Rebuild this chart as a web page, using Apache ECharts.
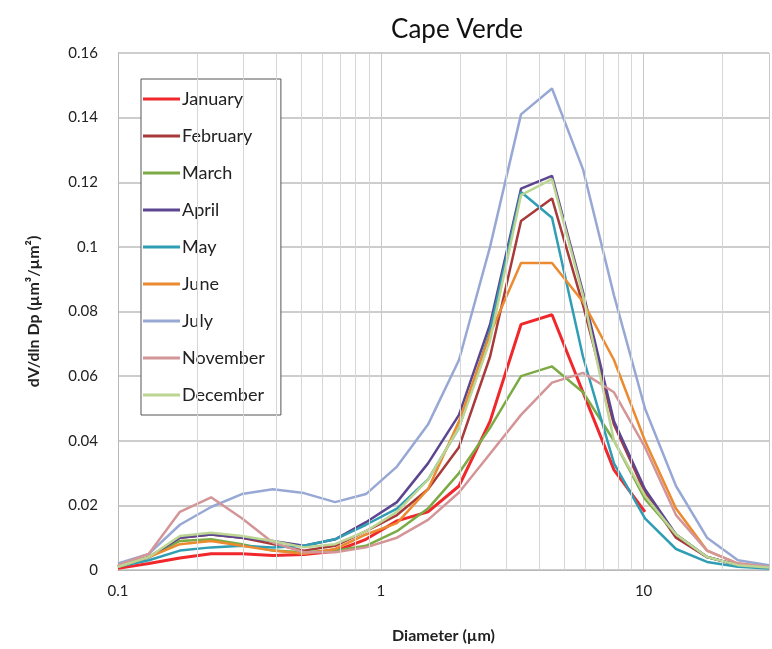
<!DOCTYPE html>
<html>
<head>
<meta charset="utf-8">
<title>Cape Verde</title>
<script src="https://cdn.jsdelivr.net/npm/echarts@6/dist/echarts.min.js"></script>
<style>
html, body { margin: 0; padding: 0; background: #fff; }
#chart { width: 772px; height: 649px; }
</style>
</head>
<body>
<div id="chart"></div>
<script>
// particle diameters (µm), shared by all months
var diameters = [0.1, 0.131, 0.172, 0.226, 0.296, 0.388, 0.51, 0.67, 0.878, 1.152, 1.512,
  1.984, 2.604, 3.416, 4.482, 5.88, 7.714, 10.12, 13.28, 17.43, 22.86, 30]

// dV/dln Dp per month
var january = [0.0005, 0.002, 0.0037, 0.005, 0.005, 0.0045, 0.0048, 0.0058, 0.0095, 0.0152, 0.018,
  0.026, 0.046, 0.076, 0.079, 0.055, 0.031, 0.018, null, null, null, null]
var february = [0.001, 0.004, 0.010, 0.011, 0.010, 0.008, 0.006, 0.0075, 0.012, 0.017, 0.025,
  0.038, 0.066, 0.108, 0.115, 0.082, 0.045, 0.024, 0.010, 0.004, 0.0015, 0.0008]
var march = [0.001, 0.004, 0.009, 0.0095, 0.008, 0.006, 0.0055, 0.006, 0.0075, 0.012, 0.019,
  0.030, 0.044, 0.060, 0.063, 0.055, 0.040, 0.022, 0.011, 0.004, 0.0015, 0.0008]
var april = [0.001, 0.004, 0.010, 0.011, 0.010, 0.009, 0.0075, 0.0095, 0.0148, 0.021, 0.033,
  0.048, 0.076, 0.118, 0.122, 0.086, 0.046, 0.025, 0.011, 0.004, 0.0015, 0.0008]
var may = [0.001, 0.003, 0.006, 0.007, 0.0075, 0.007, 0.0075, 0.0095, 0.014, 0.019, 0.028,
  0.044, 0.074, 0.117, 0.109, 0.066, 0.033, 0.016, 0.0065, 0.0025, 0.001, 0.0005]
var june = [0.001, 0.004, 0.008, 0.009, 0.0075, 0.006, 0.005, 0.0065, 0.011, 0.0145, 0.025,
  0.046, 0.073, 0.095, 0.095, 0.083, 0.065, 0.040, 0.019, 0.006, 0.002, 0.001]
var july = [0.002, 0.005, 0.014, 0.0195, 0.0235, 0.025, 0.0238, 0.021, 0.0235, 0.032, 0.045,
  0.065, 0.100, 0.141, 0.149, 0.124, 0.085, 0.050, 0.026, 0.010, 0.003, 0.0015]
var november = [0.0015, 0.005, 0.018, 0.0225, 0.016, 0.0085, 0.0055, 0.0055, 0.007, 0.010, 0.0155,
  0.024, 0.036, 0.048, 0.058, 0.061, 0.055, 0.038, 0.017, 0.006, 0.002, 0.001]
var december = [0.001, 0.004, 0.0105, 0.0115, 0.0105, 0.009, 0.007, 0.008, 0.012, 0.018, 0.028,
  0.044, 0.071, 0.116, 0.121, 0.085, 0.040, 0.023, 0.011, 0.004, 0.0015, 0.0008]

var monthNames = ['January', 'February', 'March', 'April', 'May', 'June', 'July', 'November', 'December']
var monthData = [january, february, march, april, may, june, july, november, december]
var monthColors = ['#f0282c', '#a83a3a', '#7cab45', '#5d4690', '#2f9db3', '#ec8a2f', '#97a8d4', '#d39597', '#bcd592']

// minor vertical grid lines of the log axis
var minorTicks = [0.2, 0.3, 0.4, 0.5, 0.6, 0.7, 0.8, 0.9, 2, 3, 4, 5, 6, 7, 8, 9, 20]

var chart = echarts.init(document.getElementById('chart'))

var series = monthNames.map(function (name, i) {
  return {
    name: name,
    type: 'line',
    symbol: 'none',
    z: 3,
    lineStyle: { width: i === 0 ? 3 : 2.5, color: monthColors[i] },
    itemStyle: { color: monthColors[i] },
    data: diameters.map(function (d, j) { return [d, monthData[i][j]] })
  }
})

// minor grid lines drawn with a markLine
series.unshift({
  name: 'grid',
  type: 'line',
  data: [],
  silent: true,
  z: 1,
  markLine: {
    silent: true,
    symbol: 'none',
    label: { show: false },
    lineStyle: { color: '#d6d6d6', width: 1, type: 'solid' },
    data: minorTicks.map(function (v) { return { xAxis: v } })
  }
})

chart.setOption({
  animation: false,
  backgroundColor: '#fff',
  textStyle: { fontFamily: 'Lato, "Open Sans", sans-serif' },
  title: {
    text: 'Cape Verde',
    left: 452,
    top: 12,
    textAlign: 'center',
    textStyle: { fontSize: 26, fontWeight: 'normal', color: '#111', fontFamily: 'Lato, "Open Sans", sans-serif' }
  },
  grid: { left: 118, right: -6, top: 53, bottom: 72 },
  legend: {
    data: monthNames,
    orient: 'vertical',
    left: 141,
    top: 79,
    backgroundColor: '#fff',
    borderColor: '#555',
    borderWidth: 1,
    padding: [11, 16, 11, 2],
    icon: 'rect',
    itemWidth: 37,
    itemHeight: 3,
    itemGap: 19,
    textStyle: { fontSize: 18, color: '#222', padding: [0, 0, 0, -3] }
  },
  xAxis: {
    type: 'log',
    logBase: 10,
    min: 0.1,
    max: 30,
    name: 'Diameter (µm)',
    nameLocation: 'middle',
    nameGap: 58,
    nameTextStyle: { fontSize: 16, fontWeight: 'bold', color: '#222' },
    axisLine: { show: true, lineStyle: { color: '#b8b8b8', width: 1 } },
    axisTick: { show: false },
    axisLabel: {
      fontSize: 15,
      color: '#222',
      margin: 14,
      formatter: function (v) {
        if (Math.abs(v - 0.1) < 1e-9) return '0.1'
        if (Math.abs(v - 1) < 1e-9) return '1'
        if (Math.abs(v - 10) < 1e-9) return '10'
        return ''
      }
    },
    splitLine: { show: true, lineStyle: { color: '#c8c8c8', width: 1 } }
  },
  yAxis: {
    type: 'value',
    min: 0,
    max: 0.16,
    interval: 0.02,
    name: 'dV/dln Dp (µm³/µm²)',
    nameLocation: 'middle',
    nameGap: 76,
    nameTextStyle: { fontSize: 16, fontWeight: 'bold', color: '#222' },
    axisLine: { show: true, lineStyle: { color: '#b8b8b8', width: 1 } },
    axisTick: { show: false },
    axisLabel: { fontSize: 15, color: '#222', margin: 20 },
    splitLine: { show: true, lineStyle: { color: '#bdbdbd', width: 1.5 } }
  },
  series: series
})
</script>
</body>
</html>
